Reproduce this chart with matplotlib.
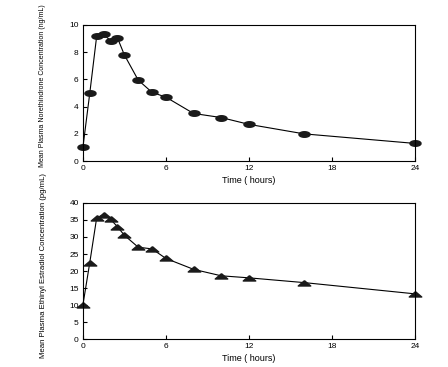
import numpy as np
import matplotlib
matplotlib.use("Agg")
import matplotlib.pyplot as plt
from matplotlib.path import Path

plt.rcParams['font.family'] = ['Liberation Sans', 'DejaVu Sans']

# sampling times (hours)
hours = [0, 0.5, 1, 1.5, 2, 2.5, 3, 4, 5, 6, 8, 10, 12, 16, 24]
# mean plasma norethindrone (ng/mL)
noreth = [1.0, 5.0, 9.2, 9.3, 8.85, 9.05, 7.8, 5.95, 5.05, 4.7, 3.5, 3.2, 2.7, 2.0, 1.3]
# mean plasma ethinyl estradiol (pg/mL)
ethinyl = [10.0, 22.5, 35.7, 36.5, 35.2, 33.0, 30.5, 27.0, 26.5, 23.7, 20.5, 18.6, 18.0, 16.6, 13.3]

xticks = [0, 6, 12, 18, 24]

# flat oval marker and wide triangle
t = np.linspace(0, 2 * np.pi, 40)
oval = Path(np.column_stack([np.cos(t), 0.5 * np.sin(t)]))
tri = [(0, 0.45), (-1, -0.4), (1, -0.4), (0, 0.45)]

fig = plt.figure(figsize=(4.48, 3.67), dpi=100)
ax1 = fig.add_axes([0.185, 0.561, 0.741, 0.371])
ax2 = fig.add_axes([0.185, 0.076, 0.741, 0.371])

ax1.plot(hours, noreth, color='black', linewidth=0.8, marker=oval,
         markersize=8, markerfacecolor='#1a1a1a', markeredgecolor='#1a1a1a', clip_on=False)
ax2.plot(hours, ethinyl, color='black', linewidth=0.8, marker=tri,
         markersize=9, markerfacecolor='#1a1a1a', markeredgecolor='#1a1a1a', clip_on=False)

ax1.set_ylim(0, 10)
ax1.set_yticks([0, 2, 4, 6, 8, 10])
ax2.set_ylim(0, 40)
ax2.set_yticks([0, 5, 10, 15, 20, 25, 30, 35, 40])

for ax in (ax1, ax2):
    ax.set_xlim(0, 24)
    ax.set_xticks(xticks)
    ax.tick_params(direction='in', length=3, width=0.8, labelsize=6, pad=3)
    for s in ax.spines.values():
        s.set_linewidth(0.8)
    ax.set_xlabel('Time ( hours)', fontsize=6.5, labelpad=3)

fig.text(0.094, 0.545, 'Mean Plasma Norethindrone Concentration (ng/mL)',
         rotation=90, fontsize=5.0, ha='center', va='bottom')
fig.text(0.096, 0.025, 'Mean Plasma Ethinyl Estradiol Concentration (pg/mL)',
         rotation=90, fontsize=5.6, ha='center', va='bottom')

fig.savefig('out.png', dpi=100)
